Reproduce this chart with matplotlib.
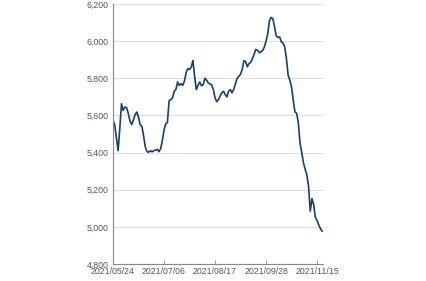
import matplotlib
matplotlib.use('Agg')
import matplotlib.pyplot as plt

# trading-day index series (one value per day)
values = [
  5575, 5550, 5480, 5410, 5530, 5663, 5627, 5645, 5642, 5610,
  5570, 5551, 5575, 5605, 5618, 5590, 5550, 5540, 5490, 5430,
  5405, 5402, 5410, 5404, 5411, 5412, 5418, 5405, 5420, 5465,
  5520, 5555, 5562, 5680, 5685, 5695, 5730, 5740, 5780, 5762,
  5771, 5762, 5785, 5830, 5852, 5847, 5860, 5896, 5810, 5739,
  5762, 5780, 5760, 5765, 5800, 5790, 5776, 5770, 5765, 5740,
  5695, 5674, 5685, 5705, 5722, 5730, 5712, 5700, 5730, 5739,
  5722, 5740, 5770, 5800, 5810, 5822, 5848, 5895, 5890, 5862,
  5880, 5886, 5905, 5930, 5955, 5951, 5938, 5942, 5950, 5968,
  6000, 6040, 6110, 6128, 6121, 6077, 6028, 6020, 6023, 5996,
  5990, 5968, 5906, 5816, 5789, 5753, 5681, 5618, 5612, 5560,
  5450, 5400, 5345, 5310, 5280, 5220, 5085, 5152, 5120, 5052,
  5035, 5010, 4990, 4977,
]

tick_pos = [0, 30, 60, 90, 120]
tick_labels = ['2021/05/24', '2021/07/06', '2021/08/17', '2021/09/28', '2021/11/15']
y_ticks = [4800, 5000, 5200, 5400, 5600, 5800, 6000, 6200]

plt.rcParams['font.family'] = ['Liberation Sans', 'DejaVu Sans']

fig = plt.figure(figsize=(4.27, 2.81), dpi=100)
ax = fig.add_axes([113 / 427, 1 - 264 / 281, 210 / 427, 260 / 281])

ax.plot(range(len(values)), values, color='#173f72', linewidth=1.2)

ax.set_xlim(0, 123.5)
ax.set_ylim(4800, 6200)
ax.set_yticks(y_ticks)
ax.set_yticklabels([f'{v:,}' for v in y_ticks])
ax.set_xticks(tick_pos)
ax.set_xticklabels(tick_labels)

# light horizontal grid only
ax.yaxis.grid(True, color='#dddddd', linewidth=0.8)
ax.set_axisbelow(True)

for side in ['top', 'right']:
  ax.spines[side].set_visible(False)
for side in ['left', 'bottom']:
  ax.spines[side].set_color('#888888')
  ax.spines[side].set_linewidth(0.8)

ax.tick_params(axis='x', direction='in', length=3, width=0.6, color='#888888',
               labelsize=6.3, labelcolor='#555555', pad=2)
ax.tick_params(axis='y', length=0, labelsize=6.3, labelcolor='#555555', pad=3)

fig.savefig('out.png', dpi=100)
